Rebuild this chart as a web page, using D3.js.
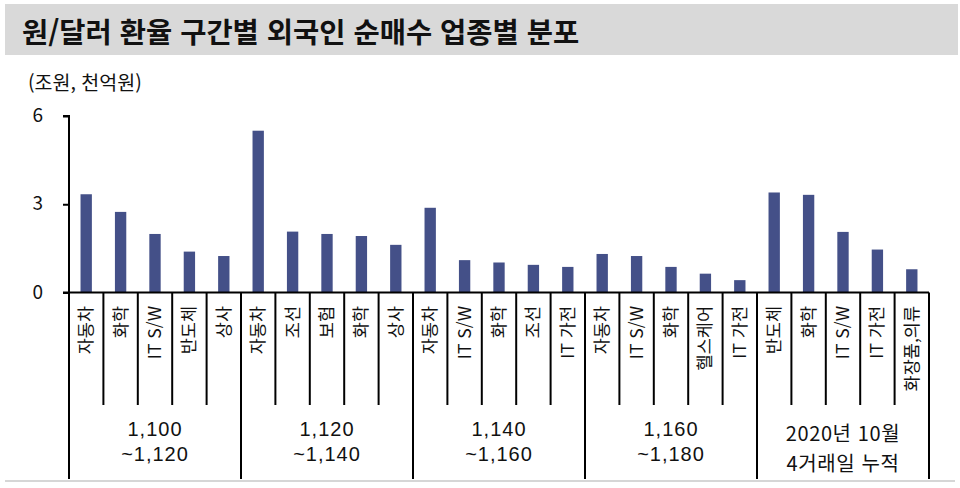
<!DOCTYPE html>
<html lang="ko">
<head>
  <meta charset="UTF-8">
  <title>원/달러 환율 구간별 외국인 순매수 업종별 분포</title>
  <style>
    body { margin: 0; background: #fff; font-family: "Noto Sans CJK KR", "Noto Sans", sans-serif; }
    svg { display: block; }
    .cat { font-size: 17.5px; fill: #111; }
    .grp { font-size: 20px; fill: #111; letter-spacing: 0.6px; }
    .grp.num { font-family: "Liberation Sans", Arial, sans-serif; letter-spacing: 1px; }
  </style>
</head>
<body>
  <svg id="chart" width="960" height="488"></svg>
  <script src="https://d3js.org/d3.v7.min.js"></script>
  <script>
    // 환율 구간 (group labels, two lines each)
    const groups = [
      ["1,100", "~1,120"],
      ["1,120", "~1,140"],
      ["1,140", "~1,160"],
      ["1,160", "~1,180"],
      ["2020년  10월", "4거래일  누적"]
    ];
    // 업종 per group
    const sectors = [
      ["자동차", "화학", "IT S/W", "반도체", "상사"],
      ["자동차", "조선", "보험", "화학", "상사"],
      ["자동차", "IT S/W", "화학", "조선", "IT 가전"],
      ["자동차", "IT S/W", "화학", "헬스케어", "IT 가전"],
      ["반도체", "화학", "IT S/W", "IT 가전", "화장품,의류"]
    ];
    // 순매수 (조원 / 천억원)
    const values = [
      [3.34, 2.74, 1.99, 1.39, 1.24],
      [5.50, 2.07, 1.99, 1.92, 1.62],
      [2.88, 1.10, 1.02, 0.94, 0.87],
      [1.31, 1.24, 0.87, 0.64, 0.42],
      [3.40, 3.32, 2.06, 1.46, 0.79]
    ];
    const yTicks = [0, 3, 6];

    // flatten into one row per bar
    const rows = [];
    sectors.forEach((list, g) => list.forEach((name, i) => {
      rows.push({ id: g + "-" + i, group: g, name: name, value: values[g][i] });
    }));

    const svg = d3.select("#chart");
    const left = 69, right = 929, zeroY = 292.5, topY = 116;

    // title band
    svg.append("rect")
      .attr("x", 5).attr("y", 4).attr("width", 953).attr("height", 51)
      .attr("fill", "#d9d9d9");
    svg.append("text")
      .attr("x", 22).attr("y", 43)
      .attr("font-size", 28.5).attr("font-weight", "bold").attr("fill", "#111")
      .text("원/달러 환율 구간별 외국인 순매수 업종별 분포");

    svg.append("text")
      .attr("x", 28).attr("y", 90)
      .attr("font-size", 19.5).attr("fill", "#111")
      .text("(조원, 천억원)");

    const x = d3.scaleBand()
      .domain(rows.map(d => d.id))
      .range([left, right])
      .padding(0);
    const y = d3.scaleLinear().domain([0, 6]).range([zeroY, topY]);

    // y axis
    const yAxis = svg.append("g")
      .attr("transform", `translate(${left},0)`)
      .call(d3.axisLeft(y).tickValues(yTicks).tickSize(6).tickPadding(20).tickFormat(d3.format("d")));
    yAxis.select(".domain").attr("stroke", "#000").attr("stroke-width", 2)
      .attr("d", `M-6,${topY}H0V${zeroY}`);
    yAxis.selectAll(".tick line").attr("stroke", "#000").attr("stroke-width", 2);
    yAxis.selectAll(".tick text")
      .attr("font-size", 19).attr("fill", "#111")
      .attr("font-family", "'Noto Sans CJK KR', sans-serif")
      .attr("dy", "0.3em");

    // bars
    const bw = x.bandwidth() * 0.33;
    svg.append("g").selectAll("rect")
      .data(rows)
      .join("rect")
        .attr("x", d => x(d.id) + (x.bandwidth() - bw) / 2)
        .attr("y", d => y(d.value))
        .attr("width", bw)
        .attr("height", d => zeroY - y(d.value))
        .attr("fill", "#445088");

    // baseline
    svg.append("line")
      .attr("x1", left - 6).attr("x2", right)
      .attr("y1", zeroY).attr("y2", zeroY)
      .attr("stroke", "#000").attr("stroke-width", 2);

    // category dividers (short) and group dividers (long)
    const groupStarts = rows.filter((d, i) => i === 0 || rows[i - 1].group !== d.group).map(d => x(d.id));
    groupStarts.push(right);
    const innerDivs = rows.filter((d, i) => i > 0 && rows[i - 1].group === d.group).map(d => x(d.id));

    svg.append("g").selectAll("line")
      .data(innerDivs)
      .join("line")
        .attr("x1", d => d).attr("x2", d => d)
        .attr("y1", zeroY).attr("y2", 405)
        .attr("stroke", "#000").attr("stroke-width", 2);
    svg.append("g").selectAll("line")
      .data(groupStarts)
      .join("line")
        .attr("x1", d => d).attr("x2", d => d)
        .attr("y1", zeroY).attr("y2", 479)
        .attr("stroke", "#000").attr("stroke-width", 2);

    // rotated category labels
    svg.append("g").selectAll("text")
      .data(rows)
      .join("text")
        .attr("class", "cat")
        .attr("transform", d => `translate(${x(d.id) + x.bandwidth() / 2 + 6},${306}) rotate(-90)`)
        .attr("text-anchor", "end")
        .text(d => d.name);

    // group labels, two lines each
    const mid = i => (groupStarts[i] + groupStarts[i + 1]) / 2;
    const gl = svg.append("g").selectAll("g")
      .data(groups)
      .join("g");
    gl.append("text")
      .attr("class", (d, i) => i === 4 ? "grp" : "grp num")
      .attr("text-anchor", "middle")
      .attr("x", (d, i) => mid(i))
      .attr("y", (d, i) => i === 4 ? 441 : 436)
      .text(d => d[0]);
    gl.append("text")
      .attr("class", (d, i) => i === 4 ? "grp" : "grp num")
      .attr("text-anchor", "middle")
      .attr("x", (d, i) => mid(i))
      .attr("y", (d, i) => i === 4 ? 471 : 461)
      .text(d => d[1]);

    // bottom rule
    svg.append("line")
      .attr("x1", 5).attr("x2", 955)
      .attr("y1", 481).attr("y2", 481)
      .attr("stroke", "#c8c8c8").attr("stroke-width", 1.5);
  </script>
</body>
</html>
